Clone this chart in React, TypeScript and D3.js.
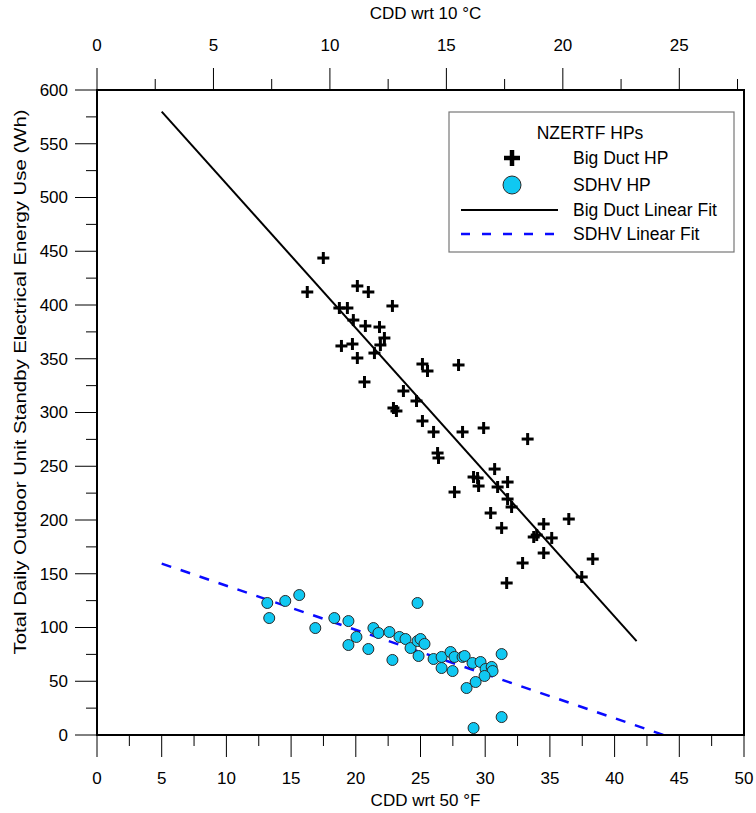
import React from "react";
import * as d3 from "d3";

// ---- Data ----
const bigDuctX = [17.49,16.25,20.12,20.97,22.83,18.73,19.35,19.81,20.74,21.83,22.21,21.90,18.89,19.74,21.44,20.12,20.67,25.15,25.54,27.94,23.68,24.69,22.91,23.14,25.15,26.01,28.25,29.88,33.28,26.32,26.39,30.73,29.10,29.41,31.73,27.63,29.49,30.96,31.73,32.04,30.42,31.27,34.52,36.46,33.75,33.98,35.14,34.52,38.31,32.89,37.46,31.66];
const bigDuctY = [443.7,412.1,417.7,412.1,399.1,397.2,397.2,386.0,380.5,379.5,369.3,362.8,361.9,363.7,355.3,350.7,328.4,345.1,338.6,344.2,320.0,310.7,304.2,301.4,292.1,281.9,281.9,285.6,275.3,262.3,257.7,247.4,240.0,239.1,235.3,226.0,231.6,230.7,219.5,212.1,206.5,192.6,196.3,200.9,184.2,186.0,183.3,169.3,163.7,160.0,147.0,141.4];

const sdhvX = [13.16,13.31,14.55,15.63,16.87,18.34,19.43,20.05,19.43,24.77,21.36,21.75,20.97,22.60,22.83,23.37,23.84,24.23,24.77,25.00,25.31,24.85,26.01,26.63,26.63,27.32,27.48,27.63,28.25,28.41,29.02,29.64,30.03,30.50,30.57,29.95,31.27,29.26,28.56,31.27,29.10];
const sdhvY = [122.8,108.8,124.7,130.2,99.5,108.8,106.0,91.2,83.7,122.8,99.5,94.9,80.0,95.8,69.8,91.2,89.3,80.9,87.4,89.3,84.7,73.5,70.7,72.6,62.3,77.2,59.5,72.6,72.6,73.5,67.0,67.9,61.4,63.3,59.5,54.9,75.3,49.3,43.7,16.7,6.5];

// linear fits: [intercept, slope], [xStart, xEnd]
const bigDuctFit = [647, -13.42];
const bigDuctFitRange = [5, 41.7];
const sdhvFit = [180, -4.11];
const sdhvFitRange = [5, 43.8];

const xTicksF = [0, 5, 10, 15, 20, 25, 30, 35, 40, 45, 50];
const xTicksC = [0, 5, 10, 15, 20, 25];
const yTicks = [0, 50, 100, 150, 200, 250, 300, 350, 400, 450, 500, 550, 600];

const legendTitle = "NZERTF HPs";
const legendLabels = ["Big Duct HP", "SDHV HP", "Big Duct Linear Fit", "SDHV Linear Fit"];

const FONT = "Arial, 'Liberation Sans', sans-serif";
const W = 756, H = 813;
const L = 97, R = 744, T = 90, B = 735;

export default function App() {
  const x = d3.scaleLinear().domain([0, 50]).range([L, R]);
  const xc = d3.scaleLinear().domain([0, 50 * 5 / 9]).range([L, R]);
  const y = d3.scaleLinear().domain([0, 600]).range([B, T]);

  const minorF = d3.range(2.5, 50, 5);
  const minorC = d3.range(2.5, 27.8, 5);
  const minorY = d3.range(25, 600, 50);

  const line = d3.line<number[]>().x(d => x(d[0])).y(d => y(d[1]));
  const fitPts = (fit: number[], rng: number[]) => rng.map(v => [v, fit[0] + fit[1] * v]);

  const plus = (cx: number, cy: number, s: number, sw: number, key?: any) => (
    <g key={key} stroke="#000" strokeWidth={sw}>
      <line x1={cx - s} x2={cx + s} y1={cy} y2={cy} />
      <line x1={cx} x2={cx} y1={cy - s} y2={cy + s} />
    </g>
  );

  const lx = 512, ltx = 573;
  const tf = 17;
  const lf = 17.5;
  return (
    <svg width={W} height={H} style={{ position: "absolute", left: 0, top: 0, background: "#fff" }} fontFamily={FONT}>
      <rect x={0} y={0} width={W} height={H} fill="#fff" />
      {/* fit lines */}
      <path d={line(fitPts(bigDuctFit, bigDuctFitRange)) || ""} fill="none" stroke="#000" strokeWidth={2} />
      <path d={line(fitPts(sdhvFit, sdhvFitRange)) || ""} fill="none" stroke="#0a0aff" strokeWidth={2.5} strokeDasharray="10,10" />
      {/* points */}
      {bigDuctX.map((v, i) => plus(x(v), y(bigDuctY[i]), 6, 3, "b" + i))}
      {sdhvX.map((v, i) => (
        <circle key={"s" + i} cx={x(v)} cy={y(sdhvY[i])} r={5.5} fill="#10c8f2" stroke="#2a2a2a" strokeWidth={1} />
      ))}
      {/* frame */}
      <rect x={L} y={T} width={R - L} height={B - T} fill="none" stroke="#000" strokeWidth={2} />
      {/* bottom axis */}
      {xTicksF.map(t => (
        <g key={"xf" + t}>
          <line x1={x(t)} x2={x(t)} y1={B} y2={B + 22} stroke="#000" strokeWidth={1} />
          <text x={x(t)} y={784} textAnchor="middle" fontSize={tf}>{t}</text>
        </g>
      ))}
      {minorF.map(t => <line key={"xfm" + t} x1={x(t)} x2={x(t)} y1={B} y2={B + 11} stroke="#000" strokeWidth={1} />)}
      <text x={(L + R) / 2 + 5} y={806} textAnchor="middle" fontSize={tf}>CDD wrt 50 °F</text>
      {/* top axis */}
      {xTicksC.map(t => (
        <g key={"xc" + t}>
          <line x1={xc(t)} x2={xc(t)} y1={T} y2={T - 22} stroke="#000" strokeWidth={1} />
          <text x={xc(t)} y={51} textAnchor="middle" fontSize={tf}>{t}</text>
        </g>
      ))}
      {minorC.map(t => <line key={"xcm" + t} x1={xc(t)} x2={xc(t)} y1={T} y2={T - 11} stroke="#000" strokeWidth={1} />)}
      <text x={(L + R) / 2 + 5} y={19} textAnchor="middle" fontSize={tf}>CDD wrt 10 °C</text>
      {/* left axis */}
      {yTicks.map(t => (
        <g key={"y" + t}>
          <line x1={L} x2={L - 22} y1={y(t)} y2={y(t)} stroke="#000" strokeWidth={1} />
          <text x={68} y={y(t)} dy="0.35em" textAnchor="end" fontSize={tf}>{t}</text>
        </g>
      ))}
      {minorY.map(t => <line key={"ym" + t} x1={L} x2={L - 11} y1={y(t)} y2={y(t)} stroke="#000" strokeWidth={1} />)}
      <text transform={`translate(20,382) rotate(-90)`} textAnchor="middle" dy="0.35em" fontSize={17}
        textLength={545} lengthAdjust="spacingAndGlyphs">
        Total Daily Outdoor Unit Standby Electrical Energy Use (Wh)
      </text>
      {/* legend */}
      <rect x={449} y={112} width={285} height={140} fill="#fff" stroke="#777" strokeWidth={1.2} />
      <text x={590} y={139} textAnchor="middle" fontSize={lf}>{legendTitle}</text>
      {plus(lx, 158, 8, 4.5)}
      <text x={ltx} y={164} fontSize={lf}>{legendLabels[0]}</text>
      <circle cx={lx} cy={185} r={9} fill="#10c8f2" stroke="#2a2a2a" strokeWidth={1} />
      <text x={ltx} y={191} fontSize={lf}>{legendLabels[1]}</text>
      <line x1={461} x2={558} y1={210} y2={210} stroke="#000" strokeWidth={2} />
      <text x={ltx} y={216} fontSize={lf}>{legendLabels[2]}</text>
      <line x1={461} x2={558} y1={234} y2={234} stroke="#0a0aff" strokeWidth={2.5} strokeDasharray="9,12" />
      <text x={ltx} y={240} fontSize={lf}>{legendLabels[3]}</text>
    </svg>
  );
}
